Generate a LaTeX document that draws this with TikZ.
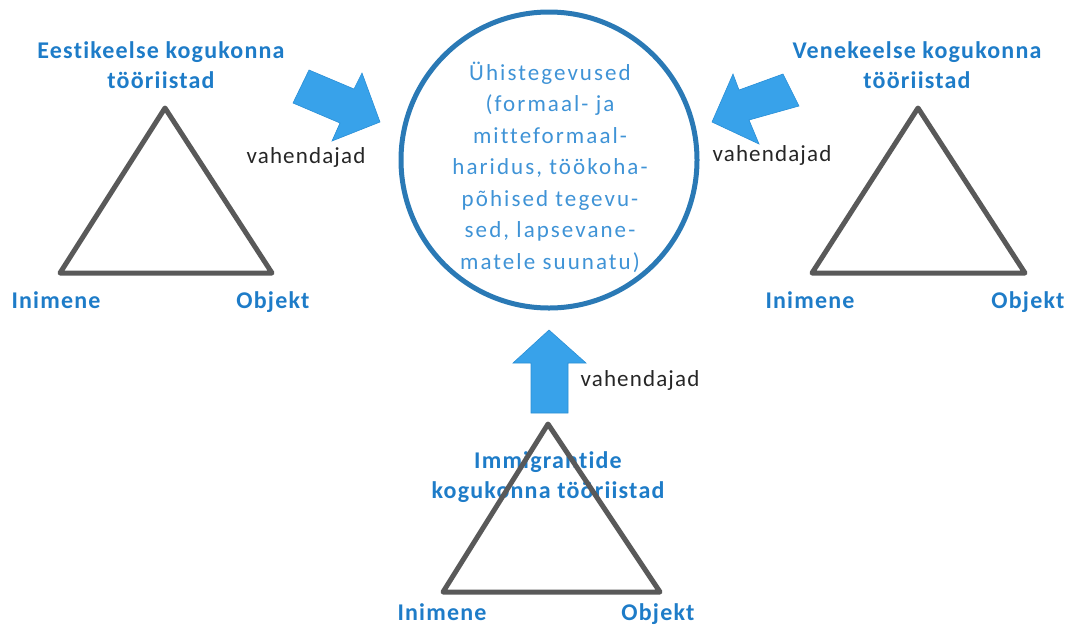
\documentclass[tikz,border=0pt]{standalone}
\usepackage{fontspec}
\setmainfont{Carlito}
\newfontfamily\spc[LetterSpace=5,RawFeature=-liga]{Carlito}
\newfontfamily\spcwide[LetterSpace=9,RawFeature=-liga]{Carlito}
\definecolor{ttl}{HTML}{1E7CC8}
\definecolor{circtxt}{HTML}{3F93D6}
\definecolor{circline}{HTML}{2A79B5}
\definecolor{arrowfill}{HTML}{38A2EA}
\definecolor{arrowedge}{HTML}{2A8FD6}
\definecolor{trig}{HTML}{595959}
\begin{document}
\begin{tikzpicture}[x=1pt,y=-1pt,
  title/.style={font=\spc\bfseries\fontsize{24}{30}\selectfont, text=ttl, align=center},
  corner/.style={font=\spc\bfseries\fontsize{24}{28}\selectfont, text=ttl},
  med/.style={font=\spc\fontsize{23}{27}\selectfont, text=black!85},
  tri/.style={draw=trig, line width=5pt, line join=round},
  blockarrow/.style={fill=arrowfill, draw=arrowedge, line width=0.6pt, line join=miter}]
\useasboundingbox (0,0) rectangle (1070,625);
% centre circle
\node[circle, draw=circline, line width=5pt, minimum size=296pt, inner sep=0pt] (c) at (549,160) {};
\node[font=\spcwide\fontsize{23}{31.5}\selectfont, text=circtxt, align=center] (ct) at (550,167)
 {Ühistegevused\\(formaal- ja\\mitteformaal-\\haridus, töökoha-\\põhised tegevu-\\sed, lapsevane-\\matele suunatu)};
% titles
\node[title] (t1) at (161,65) {Eestikeelse kogukonna\\tööriistad};
\node[title] (t2) at (917,65) {Venekeelse kogukonna\\tööriistad};
\node[title] (t3) at (548,477) {Immigrantide\\kogukonna tööriistad};
% triangles
\coordinate (a1) at (165,108); \coordinate (b1) at (60,273); \coordinate (c1) at (272,273);
\coordinate (a2) at (918,108); \coordinate (b2) at (812,273); \coordinate (c2) at (1025,273);
\coordinate (a3) at (548,424); \coordinate (b3) at (443,592); \coordinate (c3) at (660,592);
\draw[tri] (a1) -- (b1) -- (c1) -- cycle;
\draw[tri] (a2) -- (b2) -- (c2) -- cycle;
\draw[tri] (a3) -- (b3) -- (c3) -- cycle;
% corner labels
\node[corner] (i1) at (56,300) {Inimene};
\node[corner] (o1) at (273,302) {Objekt};
\node[corner] (i2) at (810,300) {Inimene};
\node[corner] (o2) at (1028,302) {Objekt};
\node[corner] (i3) at (442,612) {Inimene};
\node[corner] (o3) at (658,614) {Objekt};
% arrows
\draw[blockarrow] (309,70) -- (354,89) -- (362,73) -- (380,122) -- (332,141) -- (340,123) -- (293,103) -- cycle;
\draw[blockarrow] (712,122) -- (733,74) -- (739,90) -- (783,74) -- (799,106) -- (749,120) -- (759,144) -- cycle;
\draw[blockarrow] (549,330) -- (586,363) -- (568,363) -- (568,413) -- (531,413) -- (531,363) -- (513,363) -- cycle;
% mediator labels
\node[med] (v1) at (306,157) {vahendajad};
\node[med] (v2) at (772,155) {vahendajad};
\node[med] (v3) at (640,380) {vahendajad};
\end{tikzpicture}
\end{document}
